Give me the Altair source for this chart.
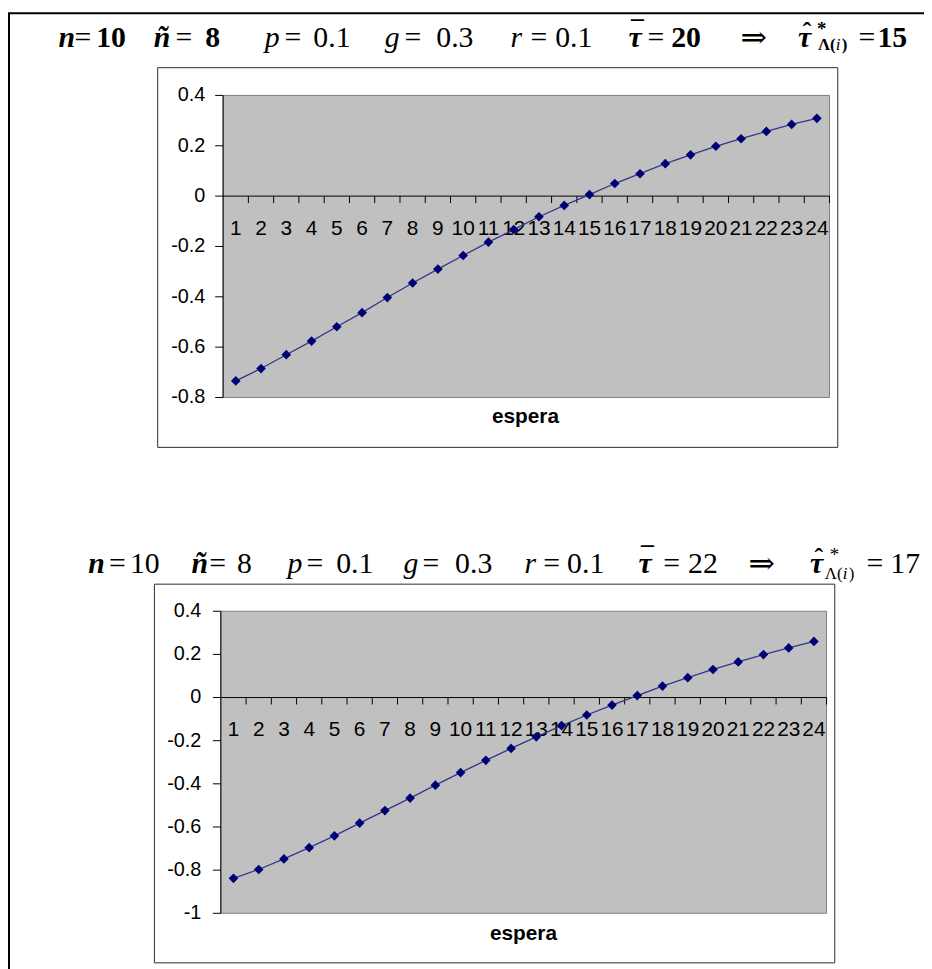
import altair as alt
import pandas as pd

# ---------------- data ----------------
espera = list(range(1, 25))
serie_1 = [-0.734, -0.685, -0.630, -0.576, -0.519, -0.463, -0.403, -0.345,
           -0.290, -0.236, -0.183, -0.133, -0.082, -0.037, 0.006, 0.050,
           0.089, 0.129, 0.164, 0.198, 0.228, 0.257, 0.285, 0.309]
serie_2 = [-0.838, -0.797, -0.748, -0.696, -0.641, -0.582, -0.524, -0.466,
           -0.406, -0.348, -0.291, -0.236, -0.182, -0.130, -0.081, -0.035,
           0.009, 0.053, 0.092, 0.130, 0.165, 0.199, 0.230, 0.260]
y1_ticks = [0.4, 0.2, 0.0, -0.2, -0.4, -0.6, -0.8]
y1_labels = ["0.4", "0.2", "0", "-0.2", "-0.4", "-0.6", "-0.8"]
y2_ticks = [0.4, 0.2, 0.0, -0.2, -0.4, -0.6, -0.8, -1.0]
y2_labels = ["0.4", "0.2", "0", "-0.2", "-0.4", "-0.6", "-0.8", "-1"]
x_labels = [str(i) for i in espera]
x_title = "espera"

SANS = "Liberation Sans"
SERIF = "Liberation Serif"


def panel(values, yticks, ylabels, ydom, xr, yr, ylab_x, lab_dy, box, title_pos):
    xs = alt.Scale(domain=[0.5, 24.5], range=xr, nice=False, zero=False)
    ys = alt.Scale(domain=ydom, range=yr, nice=False, zero=False)
    X = lambda f: alt.X(f, type="quantitative", scale=xs, axis=None)
    Y = lambda f: alt.Y(f, type="quantitative", scale=ys, axis=None)

    df = pd.DataFrame({"espera": espera, "valor": values})
    area = pd.DataFrame({"a": [0.5], "b": [24.5], "c": [ydom[0]], "d": [ydom[1]], "z": [0.0]})
    ydf = pd.DataFrame({"v": yticks, "t": ylabels})
    bounds = pd.DataFrame({"b": [e + 0.5 for e in espera], "z": [0.0] * len(espera)})
    xl = pd.DataFrame({"e": espera, "t": x_labels, "z": [0.0] * len(espera)})

    layers = []
    layers.append(alt.Chart(pd.DataFrame({"k": [0]})).mark_rect(
        fill="white", stroke="#2a2a2a", strokeWidth=1).encode(
        x=alt.value(box[0]), x2=alt.value(box[2]), y=alt.value(box[1]), y2=alt.value(box[3])))
    layers.append(alt.Chart(area).mark_rect(fill="#C0C0C0", stroke="#808080", strokeWidth=1).encode(
        x=X("a"), x2="b", y=Y("c"), y2="d"))
    layers.append(alt.Chart(area).mark_rule(color="black", strokeWidth=1).encode(
        x=X("a"), x2="b", y=Y("z")))
    layers.append(alt.Chart(bounds).mark_rule(color="black", strokeWidth=1, y2Offset=7).encode(
        x=X("b"), y=Y("z"), y2="z"))
    layers.append(alt.Chart(area).mark_rule(color="black", strokeWidth=1).encode(
        x=X("a"), y=Y("c"), y2="d"))
    layers.append(alt.Chart(ydf).mark_rule(color="black", strokeWidth=1).encode(
        y=Y("v"), x=alt.value(xr[0] - 8), x2=alt.value(xr[0])))
    layers.append(alt.Chart(ydf).mark_text(align="right", baseline="middle", font=SANS,
                                           fontSize=20, color="black").encode(
        y=Y("v"), x=alt.value(ylab_x), text="t:N"))
    layers.append(alt.Chart(xl).mark_text(align="center", baseline="middle", font=SANS,
                                          fontSize=21, color="black", dy=lab_dy).encode(
        x=X("e"), y=Y("z"), text="t:N"))
    layers.append(alt.Chart(df).mark_line(color="#35358A", strokeWidth=1.3).encode(
        x=X("espera"), y=Y("valor")))
    layers.append(alt.Chart(df).mark_point(shape="diamond", filled=True, size=95,
                                           color="#000075", opacity=1).encode(
        x=X("espera"), y=Y("valor")))
    layers.append(alt.Chart(pd.DataFrame({"t": [x_title]})).mark_text(
        align="center", baseline="middle", font=SANS, fontSize=21, fontWeight="bold",
        color="black").encode(x=alt.value(title_pos[0]), y=alt.value(title_pos[1]), text="t:N"))
    return layers


def seg(x, y, text, size=30, style="normal", weight="normal", align="left", font=SERIF):
    return alt.Chart(pd.DataFrame({"t": [text]})).mark_text(
        align=align, baseline="alphabetic", font=font, fontSize=size,
        fontStyle=style, fontWeight=weight, color="black").encode(
        x=alt.value(x - 8), y=alt.value(y - 8), text="t:N")


def title(b, items, tau_bar, tau_hat, star, sub, bold_num):
    L = []
    w = "bold" if bold_num else "normal"
    for (x, t, kind) in items:
        if kind == "bi":
            L.append(seg(x, b, t, style="italic", weight="bold"))
        elif kind == "i":
            L.append(seg(x, b, t, style="italic"))
        elif kind == "num":
            L.append(seg(x, b, t, weight=w))
        elif kind == "numr":
            L.append(seg(x, b, t))
        elif kind == "arrow":
            L.append(seg(x, b + 1, t, size=32, font="DejaVu Serif"))
        else:
            L.append(seg(x, b, t))
    # tau with bar
    L.append(seg(tau_bar, b, "\u03c4", style="italic", weight="bold"))
    L.append(seg(tau_bar + 9, b - 9, "\u00af", size=26, align="center", weight="bold"))
    # tau with hat, star and subscript
    L.append(seg(tau_hat, b, "\u03c4", style="italic", weight="bold"))
    L.append(seg(tau_hat + 9, b - 7, "\u02c6", size=26, align="center", weight="bold"))
    L.append(seg(star[0], star[1], "*", size=19, weight=w))
    L.append(seg(sub[0], sub[1], "\u039b(", size=17, weight=w))
    L.append(seg(sub[0] + 18, sub[1], "i", size=17, style="italic"))
    L.append(seg(sub[0] + 24, sub[1], ")", size=17, weight=w))
    return L


t1_items = [
    (59, "n", "bi"), (75, "=", "eq"), (97, "10", "num"),
    (155, "\u00f1", "bi"), (177, "=", "eq"), (207, "8", "num"),
    (267, "p", "i"), (287, "=", "eq"), (316, "0.1", "numr"),
    (388, "g", "i"), (408, "=", "eq"), (440, "0.3", "numr"),
    (515, "r", "i"), (535, "=", "eq"), (560, "0.1", "numr"),
    (653, "=", "eq"), (677, "20", "num"),
    (747, "\u21d2", "arrow"),
    (866, "=", "eq"), (885, "15", "num"),
]
t2_items = [
    (89, "n", "bi"), (110, "=", "eq"), (131, "10", "numr"),
    (193, "\u00f1", "bi"), (211, "=", "eq"), (239, "8", "numr"),
    (290, "p", "i"), (309, "=", "eq"), (339, "0.1", "numr"),
    (407, "g", "i"), (426, "=", "eq"), (459, "0.3", "numr"),
    (529, "r", "i"), (548, "=", "eq"), (572, "0.1", "numr"),
    (669, "=", "eq"), (694, "22", "numr"),
    (755, "\u21d2", "arrow"),
    (874, "=", "eq"), (898, "17", "numr"),
]

layers = []
# outer frame
layers.append(alt.Chart(pd.DataFrame({"k": [0]})).mark_rect(
    fill="white", stroke="black", strokeWidth=2).encode(
    x=alt.value(1), x2=alt.value(940), y=alt.value(1), y2=alt.value(990)))
layers += title(43.5, t1_items, 634, 805, (824, 31), (825, 46), True)
layers += panel(serie_1, y1_ticks, y1_labels, [-0.8, 0.4], [217, 828.7], [388.7, 84],
                199, 33.5, (151, 56, 837, 439), (522, 408.7))
layers += title(574, t2_items, 644, 817, (837, 562), (832, 580), False)
layers += panel(serie_2, y2_ticks, y2_labels, [-1.0, 0.4], [214.7, 825.7], [909, 604.3],
                195, 32.5, (147.7, 577, 834, 959), (520, 930))

chart = alt.layer(*layers).resolve_scale(x="independent", y="independent").properties(
    width=924, height=961, padding=0, autosize=alt.AutoSizeParams(type="none"),
    background="white"
).configure_view(stroke=None)

chart.save("out.html", embed_options={"renderer": "svg", "actions": False})
